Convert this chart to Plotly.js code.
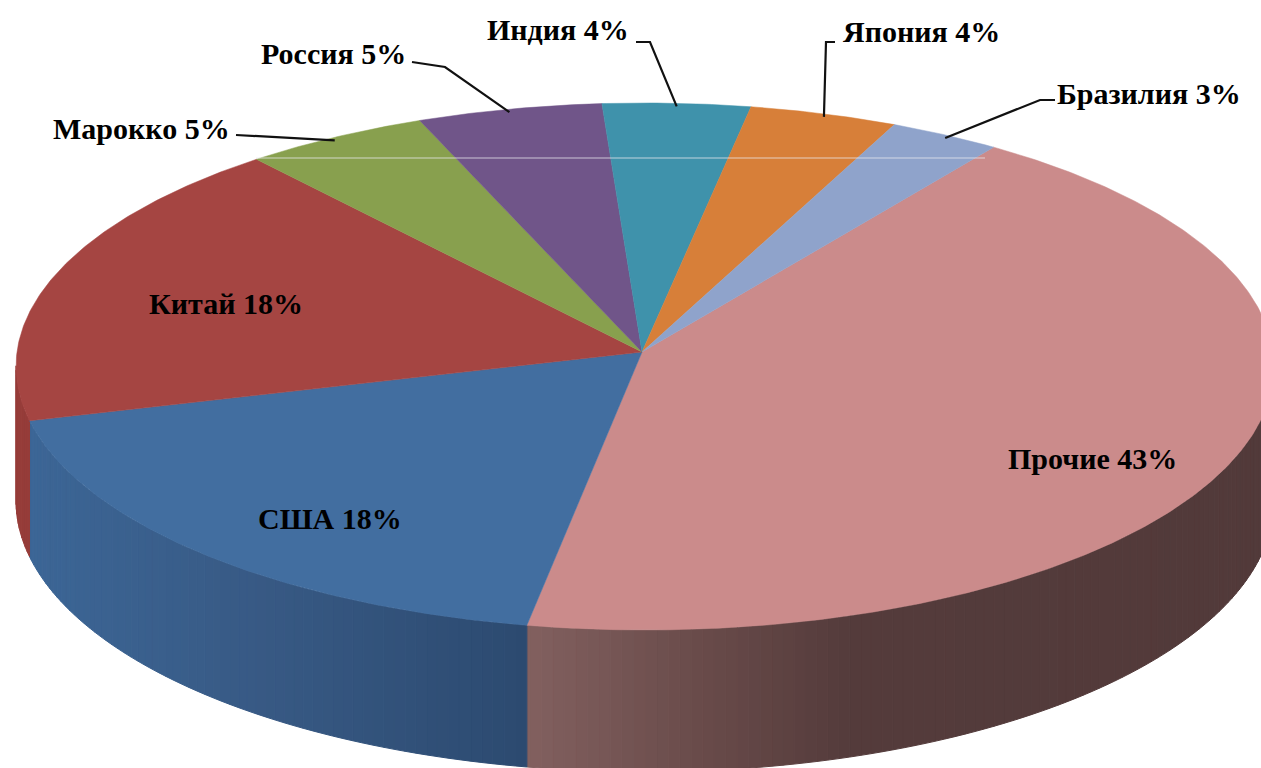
<!DOCTYPE html>
<html>
<head>
<meta charset="utf-8">
<script src="https://cdn.plot.ly/plotly-3.0.1.min.js"></script>
<style>html,body{margin:0;padding:0;background:#fff;overflow:hidden}</style>
</head>
<body>
<div id="chart" style="width:1261px;height:768px"></div>
<script>
// Data, clockwise from the Прочие slice
const countries = ["Прочие","США","Китай","Марокко","Россия","Индия","Япония","Бразилия"];
const shares = [43,18,18,5,5,4,4,3];
const topColors = ["#CB8B8B","#426EA0","#A54542","#88A04E","#705589","#3F92AB","#D77F39","#8FA3CB"];

// Side wall shading, stops of [pixel x, r, g, b]
const wallStops = [
  [[527,130,96,95],[700,105,75,74],[850,84,59,59],[1261,82,58,58]],
  [[27,60,102,150],[250,56,90,133],[527,44,74,112]],
  [[0,150,60,57],[60,150,60,57]],
  [],[],[],[],[]
];

// Label placement
const labelPos = [[141,128],[333,53],[558,29],[921,31],[1149,93]];
const innerLabelPos = [[1092,458],[330,518],[226,303]];
const leaderKnee = [null,null,null,[[236,135]],[[412,62],[445,67]],[[636,42],[650,42]],[[835,42],[826,42]],[[1055,100],[1040,100]]];

// Projection of the tilted disc
const apexX=642, cx=645, cy=352, ra=628, rb=262.7, persp=0.055, depth=134, startDeg=35.45;
function project(deg, drop){
  const t=deg*Math.PI/180, w=1+persp*Math.cos(t);
  return [cx+ra*Math.sin(t)/w, cy-rb*Math.cos(t)/w+drop/w];
}
function wallColor(stops,x){
  let i=0;
  while(i<stops.length-2 && x>stops[i+1][0]) i++;
  const a=stops[i], b=stops[i+1];
  const f=Math.min(1,Math.max(0,(x-a[0])/(b[0]-a[0])));
  return "rgb("+[1,2,3].map(k=>Math.round(a[k]+(b[k]-a[k])*f)).join(",")+")";
}

const total=shares.reduce((s,v)=>s+v,0);
const edges=[startDeg];
shares.forEach(v=>edges.push(edges[edges.length-1]+v/total*360));

const traces=[];
// walls, front half only
shares.forEach((v,i)=>{
  if(!wallStops[i].length) return;
  const from=Math.max(edges[i],92), to=Math.min(edges[i+1],267);
  for(let a=from;a<to;a+=1){
    const b=Math.min(a+1,to);
    const p=[project(a,0),project(b,0),project(b,depth),project(a,depth),project(a,0)];
    const col=wallColor(wallStops[i],(p[0][0]+p[1][0])/2);
    traces.push({type:"scatter",mode:"lines",x:p.map(q=>q[0]),y:p.map(q=>q[1]),fill:"toself",fillcolor:col,
      line:{color:col,width:1},hoverinfo:"skip",showlegend:false});
  }
});
// top faces
shares.forEach((v,i)=>{
  const xs=[apexX], ys=[cy];
  const n=Math.ceil(edges[i+1]-edges[i])*2;
  for(let k=0;k<=n;k++){
    const q=project(edges[i]+(edges[i+1]-edges[i])*k/n,0);
    xs.push(q[0]); ys.push(q[1]);
  }
  xs.push(apexX); ys.push(cy);
  traces.push({type:"scatter",mode:"lines",x:xs,y:ys,fill:"toself",fillcolor:topColors[i],
    line:{color:topColors[i],width:0.5},name:countries[i],text:countries[i]+" "+v+"%",hoverinfo:"text",showlegend:false});
});
// thin pale scan line across the back of the disc
traces.push({type:"scatter",mode:"lines",x:[256,985],y:[158,158],line:{color:"rgba(235,235,240,0.75)",width:1},hoverinfo:"skip",showlegend:false});
// leader lines end on the middle of their slice
shares.forEach((v,i)=>{
  if(!leaderKnee[i]) return;
  const end=project((edges[i]+edges[i+1])/2,0);
  const pts=leaderKnee[i].concat([[end[0],end[1]+3]]);
  traces.push({type:"scatter",mode:"lines",x:pts.map(q=>q[0]),y:pts.map(q=>q[1]),
    line:{color:"#111",width:2.2},hoverinfo:"skip",showlegend:false});
});

const allLabelPos=innerLabelPos.concat(labelPos);
const annotations=countries.map((c,i)=>({
  x:allLabelPos[i][0],y:allLabelPos[i][1],xref:"x",yref:"y",text:"<b>"+c+" "+shares[i]+"%</b>",showarrow:false,
  xanchor:"center",yanchor:"middle",
  font:{family:"Liberation Serif",size:30,color:"#000"}
}));

Plotly.newPlot("chart",traces,{
  width:1261,height:768,margin:{l:0,r:0,t:0,b:0},
  paper_bgcolor:"#fff",plot_bgcolor:"#fff",showlegend:false,
  xaxis:{range:[0,1261],visible:false,fixedrange:true},
  yaxis:{range:[768,0],visible:false,fixedrange:true},
  annotations:annotations
},{displayModeBar:false});
</script>
</body>
</html>
